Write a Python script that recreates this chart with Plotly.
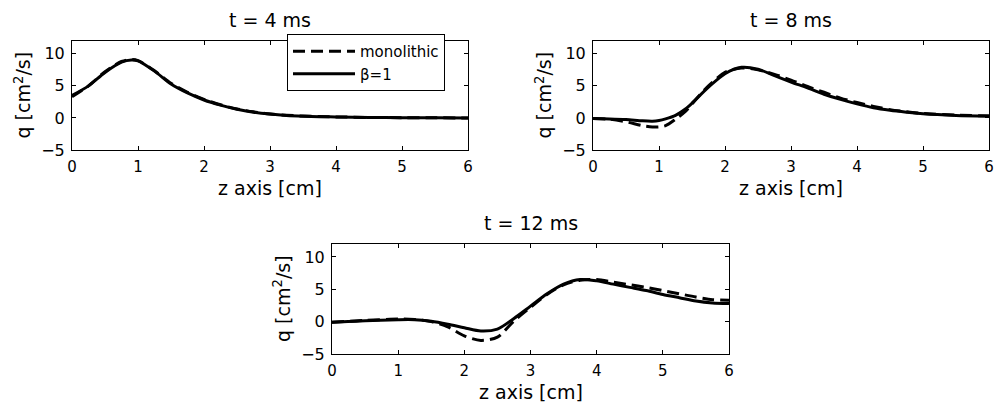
import plotly.graph_objects as go

# ---------------- data ----------------
# t = 4 ms
z4 = [0, 0.25, 0.5, 0.75, 0.9, 1.0, 1.25, 1.5, 1.75, 2.0, 2.25, 2.5, 2.75, 3.0, 3.25, 3.5, 3.75, 4.0, 4.5, 5.0, 5.5, 6.0]
mono4 = [3.3, 5.0, 7.2, 8.8, 9.1, 8.95, 7.35, 5.4, 4.0, 2.9, 2.05, 1.4, 0.95, 0.62, 0.42, 0.3, 0.22, 0.16, 0.08, 0.04, 0.02, 0.0]
beta4 = [3.5, 5.0, 7.1, 8.7, 9.05, 8.9, 7.3, 5.3, 3.9, 2.8, 2.0, 1.35, 0.9, 0.6, 0.4, 0.28, 0.2, 0.15, 0.08, 0.04, 0.02, 0.0]

# t = 8 ms
z8 = [0, 0.25, 0.5, 0.75, 0.9, 1.0, 1.1, 1.25, 1.4, 1.5, 1.75, 2.0, 2.25, 2.5, 2.75, 3.0, 3.25, 3.5, 3.75, 4.0, 4.25, 4.5, 4.75, 5.0, 5.5, 6.0]
mono8 = [-0.1, -0.2, -0.6, -1.2, -1.4, -1.4, -1.2, -0.2, 1.0, 2.2, 5.0, 7.1, 7.8, 7.5, 6.8, 5.9, 4.9, 4.0, 3.1, 2.4, 1.8, 1.3, 0.95, 0.7, 0.45, 0.3]
beta8 = [-0.1, -0.15, -0.25, -0.45, -0.5, -0.4, -0.15, 0.4, 1.4, 2.3, 4.8, 6.9, 7.9, 7.6, 6.6, 5.6, 4.7, 3.7, 2.9, 2.2, 1.6, 1.2, 0.9, 0.65, 0.4, 0.3]

# t = 12 ms
z12 = [0, 0.5, 1.0, 1.25, 1.5, 1.75, 2.0, 2.25, 2.5, 2.75, 3.0, 3.25, 3.5, 3.75, 4.0, 4.25, 4.5, 4.75, 5.0, 5.25, 5.5, 5.75, 6.0]
mono12 = [-0.1, 0.2, 0.4, 0.35, 0.0, -0.8, -2.2, -2.9, -2.4, 0.1, 2.2, 4.2, 5.7, 6.4, 6.5, 6.1, 5.7, 5.3, 4.8, 4.3, 3.8, 3.4, 3.3]
beta12 = [-0.1, 0.15, 0.3, 0.3, 0.05, -0.4, -0.95, -1.45, -1.15, 0.5, 2.4, 4.3, 5.8, 6.5, 6.3, 5.8, 5.3, 4.8, 4.2, 3.7, 3.2, 2.9, 2.8]

titles = ["t = 4 ms", "t = 8 ms", "t = 12 ms"]
series_names = ["monolithic", "\u03b2=1"]
x_ticks = [0, 1, 2, 3, 4, 5, 6]
y_ticks = [-5, 0, 5, 10]

# ---------------- layout ----------------
W, H = 995, 406
FONT = "DejaVu Sans"

# axis boxes in pixels: (left, right, top, bottom)
boxes = [(72, 468, 41, 150), (593, 989, 41, 150), (332, 729, 244, 354)]

fig = go.Figure()

panels = [(z4, mono4, beta4), (z8, mono8, beta8), (z12, mono12, beta12)]
for i, (z, mono, beta) in enumerate(panels):
    ax = "" if i == 0 else str(i + 1)
    fig.add_trace(go.Scatter(
        x=z, y=mono, mode="lines", name=series_names[0],
        line=dict(color="black", width=3, dash="12px,6px", shape="spline", smoothing=0.8),
        xaxis="x" + ax, yaxis="y" + ax, showlegend=(i == 0)))
    fig.add_trace(go.Scatter(
        x=z, y=beta, mode="lines", name=series_names[1],
        line=dict(color="black", width=3, shape="spline", smoothing=0.8),
        xaxis="x" + ax, yaxis="y" + ax, showlegend=(i == 0)))

annotations = []
for i, (l, r, t, b) in enumerate(boxes):
    ax = "" if i == 0 else str(i + 1)
    xd = [l / W, r / W]
    yd = [1 - b / H, 1 - t / H]
    common = dict(showline=True, linecolor="black", linewidth=1, mirror="ticks",
                  ticks="inside", ticklen=4, tickcolor="black", showgrid=False,
                  zeroline=False, automargin=False)
    fig.update_layout(**{
        "xaxis" + ax: dict(domain=xd, range=[0, 6], tickvals=x_ticks,
                           anchor="y" + ax, ticklabelstandoff=3,
                           tickfont=dict(family=FONT, size=15, color="black"), **common),
        "yaxis" + ax: dict(domain=yd, range=[-5, 12], tickvals=y_ticks,
                           anchor="x" + ax, ticklabelstandoff=3,
                           tickfont=dict(family=FONT, size=16, color="black"), **common),
    })
    cx = (l + r) / 2 / W
    cy = 1 - (t + b) / 2 / H
    tf = dict(family=FONT, size=19, color="black")
    annotations.append(dict(text=titles[i], x=cx, y=1 - (t - 21) / H, xref="paper", yref="paper",
                            xanchor="center", yanchor="middle", showarrow=False, font=tf, borderpad=0))
    annotations.append(dict(text="z axis [cm]", x=cx, y=1 - (b + 38) / H, xref="paper", yref="paper",
                            xanchor="center", yanchor="middle", showarrow=False, font=tf, borderpad=0))
    annotations.append(dict(text="q [cm<sup>2</sup>/s]", x=(l - 50) / W, y=cy, xref="paper", yref="paper",
                            xanchor="center", yanchor="middle", textangle=-90, showarrow=False,
                            font=tf, borderpad=0))

fig.update_layout(
    template="none",
    width=W, height=H, autosize=False,
    margin=dict(l=0, r=0, t=0, b=0, pad=0),
    paper_bgcolor="white", plot_bgcolor="white",
    font=dict(family=FONT, color="black"),
    annotations=annotations,
    legend=dict(x=287 / W, y=1 - 34 / H, xanchor="left", yanchor="top",
                bgcolor="white", bordercolor="black", borderwidth=1,
                font=dict(family=FONT, size=15, color="black"),
                itemwidth=62, tracegroupgap=0),
)

fig.write_html("out.html", config={"displayModeBar": False},
               post_script="document.body.style.margin='0';document.body.style.overflow='hidden';")
